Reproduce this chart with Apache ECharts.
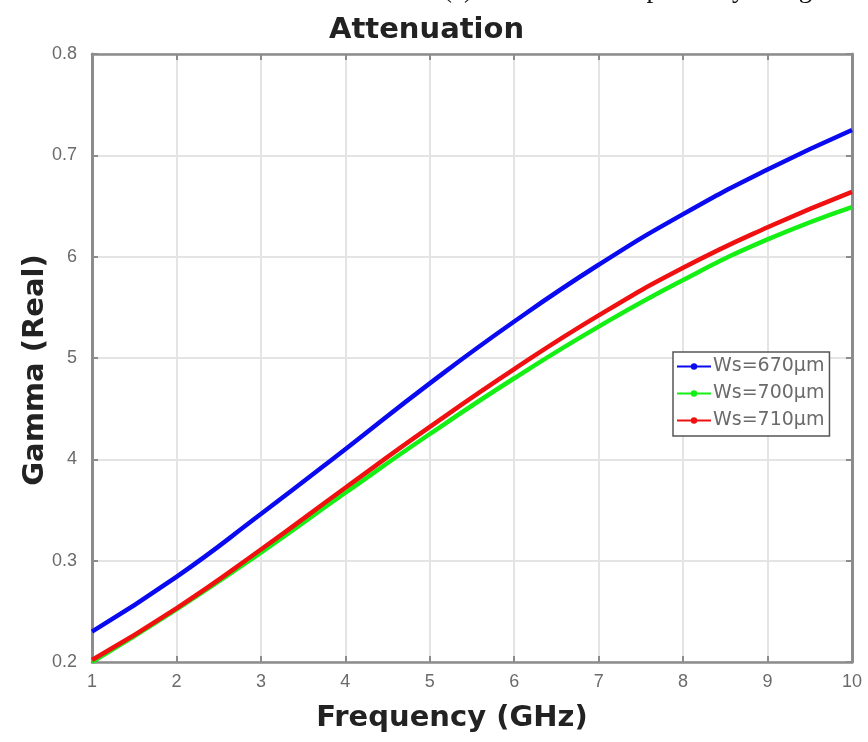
<!DOCTYPE html>
<html>
<head>
<meta charset="utf-8">
<style>
  html, body { margin: 0; padding: 0; background: #ffffff; }
  #chart { width: 868px; height: 742px; }
</style>
<script src="https://cdn.jsdelivr.net/npm/echarts@6/dist/echarts.min.js"></script>
</head>
<body>
<div id="chart"></div>
<script>
// Frequency sweep (GHz)
const freq = [1, 2, 3, 4, 5, 6, 7, 8, 9, 10];

// Real part of gamma for each slot width
const ws670 = [0.230, 0.284, 0.346, 0.410, 0.475, 0.536, 0.592, 0.642, 0.686, 0.725];
const ws700 = [0.200, 0.252, 0.308, 0.367, 0.425, 0.480, 0.531, 0.577, 0.617, 0.649];
const ws710 = [0.202, 0.253, 0.311, 0.372, 0.432, 0.489, 0.542, 0.589, 0.629, 0.664];

const seriesNames = ['Ws=670µm', 'Ws=700µm', 'Ws=710µm'];
const seriesColors = ['#0a0af0', '#14f014', '#f01010'];

// Y tick labels as printed on the axis
const yTickValues = [0.2, 0.3, 0.4, 0.5, 0.6, 0.7, 0.8];
const yTickLabels = ['0.2', '0.3', '4', '5', '6', '0.7', '0.8'];

const pair = (xs, ys) => xs.map((x, i) => [x, ys[i]]);

const chart = echarts.init(document.getElementById('chart'), null, { renderer: 'canvas' });

const tickFont = { color: '#6b6b6b', fontSize: 18, fontFamily: 'Liberation Sans' };
const axisGray = '#8c8c8c';
const labelFont = { fontSize: 29, fontWeight: 'bold', color: '#222', fontFamily: 'DejaVu Sans' };

const lineSeries = (name, ys, color) => ({
  name: name,
  type: 'line',
  data: pair(freq, ys),
  smooth: true,
  symbol: 'circle',
  symbolSize: 6,
  showSymbol: false,
  lineStyle: { width: 4.5, color: color },
  itemStyle: { color: color },
  z: 5
});

chart.setOption({
  animation: false,
  backgroundColor: '#ffffff',
  title: {
    text: 'Attenuation',
    left: 324,
    top: 11,
    textStyle: labelFont
  },
  graphic: [
    {
      type: 'text', left: 443, top: -24,
      style: { text: '(a)', font: '27px "Liberation Serif"', fill: '#111' }
    },
    {
      type: 'text', left: 615, top: -24,
      style: { text: 'respectively along', font: '27px "Liberation Serif"', fill: '#111' }
    }
  ],
  grid: {
    left: 92, right: 16, top: 54, bottom: 80,
    show: true, borderColor: axisGray, borderWidth: 2, backgroundColor: '#ffffff'
  },
  legend: {
    orient: 'vertical',
    left: 673, top: 352,
    data: seriesNames,
    itemWidth: 34, itemHeight: 8, itemGap: 8,
    padding: [5, 5, 6, 3],
    backgroundColor: '#ffffff',
    borderColor: '#555555', borderWidth: 1.5,
    textStyle: { color: '#6b6b6b', fontSize: 19, fontFamily: 'DejaVu Sans', padding: [0, 0, 0, -3] }
  },
  xAxis: [
    {
      type: 'value', min: 1, max: 10, interval: 1,
      name: 'Frequency (GHz)', nameLocation: 'middle', nameGap: 42,
      nameTextStyle: Object.assign({ padding: [0, 0, 0, -40] }, labelFont),
      axisLine: { show: true, lineStyle: { color: axisGray, width: 2.5 } },
      axisTick: { show: true, inside: true, length: 6, lineStyle: { color: axisGray, width: 2 } },
      axisLabel: Object.assign({ margin: 11 }, tickFont),
      splitLine: { show: true, lineStyle: { color: '#e4e4e4', width: 2 } }
    },
    {
      type: 'value', min: 1, max: 10, interval: 1, position: 'top',
      axisLine: { show: true, lineStyle: { color: axisGray, width: 2.5 } },
      axisTick: { show: true, inside: true, length: 6, lineStyle: { color: axisGray, width: 2 } },
      axisLabel: { show: false },
      splitLine: { show: false }
    }
  ],
  yAxis: [
    {
      type: 'value', min: 0.2, max: 0.8, interval: 0.1,
      name: 'Gamma (Real)', nameLocation: 'middle', nameGap: 42, nameRotate: 90,
      nameMoveOverlap: false,
      nameTextStyle: Object.assign({ padding: [0, 24, 0, 0] }, labelFont),
      axisLine: { show: true, lineStyle: { color: axisGray, width: 3 } },
      axisTick: { show: true, inside: true, length: 6, lineStyle: { color: axisGray, width: 2 } },
      axisLabel: Object.assign({
        margin: 15,
        formatter: function (v) {
          const i = yTickValues.findIndex(t => Math.abs(t - v) < 1e-6);
          return i >= 0 ? yTickLabels[i] : '';
        }
      }, tickFont),
      splitLine: { show: true, lineStyle: { color: '#e4e4e4', width: 2 } }
    },
    {
      type: 'value', min: 0.2, max: 0.8, interval: 0.1, position: 'right',
      axisLine: { show: true, lineStyle: { color: axisGray, width: 3 } },
      axisTick: { show: true, inside: true, length: 6, lineStyle: { color: axisGray, width: 2 } },
      axisLabel: { show: false },
      splitLine: { show: false }
    }
  ],
  series: [
    lineSeries(seriesNames[0], ws670, seriesColors[0]),
    lineSeries(seriesNames[1], ws700, seriesColors[1]),
    lineSeries(seriesNames[2], ws710, seriesColors[2])
  ]
});
</script>
</body>
</html>
